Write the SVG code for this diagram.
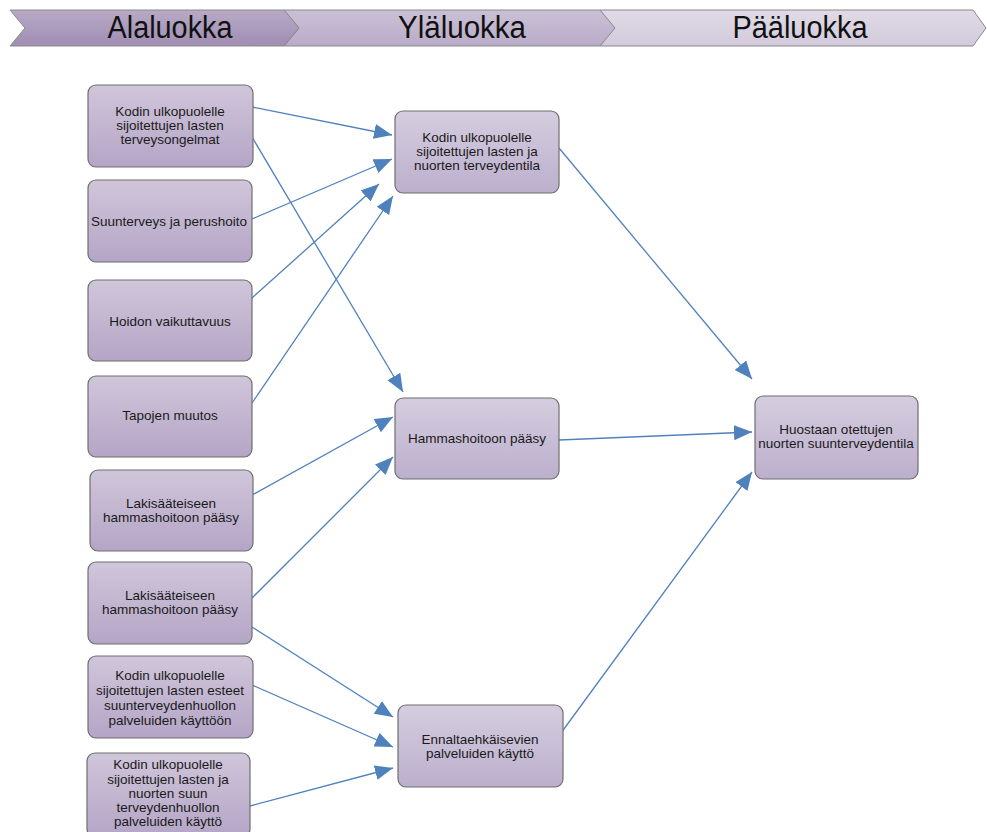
<svg xmlns="http://www.w3.org/2000/svg" width="987" height="832" viewBox="0 0 987 832">
<defs>
<linearGradient id="gBox" x1="0" y1="0" x2="0" y2="1">
<stop offset="0" stop-color="#d0c6da"/>
<stop offset="1" stop-color="#b4a5c6"/>
</linearGradient>
<linearGradient id="gBox2" x1="0" y1="0" x2="0" y2="1">
<stop offset="0" stop-color="#d5cddf"/>
<stop offset="1" stop-color="#bcafcd"/>
</linearGradient>
<linearGradient id="gH1" x1="0" y1="0" x2="0" y2="1">
<stop offset="0" stop-color="#b8aac6"/>
<stop offset="1" stop-color="#9f8db3"/>
</linearGradient>
<linearGradient id="gH2" x1="0" y1="0" x2="0" y2="1">
<stop offset="0" stop-color="#cbc1d6"/>
<stop offset="1" stop-color="#b8abc8"/>
</linearGradient>
<linearGradient id="gH3" x1="0" y1="0" x2="0" y2="1">
<stop offset="0" stop-color="#e0dbe6"/>
<stop offset="1" stop-color="#d2cadb"/>
</linearGradient>
<marker id="ah" markerUnits="userSpaceOnUse" markerWidth="20" markerHeight="16" refX="18" refY="7.5" orient="auto">
<path d="M0,0 L18,7.5 L0,15 Z" fill="#4f81bd"/>
</marker>
</defs>
<style>
.box{stroke:#6f6f6f;stroke-width:1.2}
.t{font-family:"Liberation Sans",Arial,sans-serif;font-size:13.5px;fill:#1a1a1a;text-anchor:middle}
.h{font-family:"Liberation Sans",Arial,sans-serif;font-size:31px;fill:#111;text-anchor:middle}
.hd{stroke:#8a8a8a;stroke-width:1}
.c line{stroke:#4f81bd;stroke-width:1.3;marker-end:url(#ah)}
</style>
<rect width="987" height="832" fill="#ffffff"/>

<g id="header">
<path class="hd" d="M600,10 L973,10 L986,28 L973,46 L600,46 L613,28 Z" fill="url(#gH3)"/>
<path class="hd" d="M284,10 L600,10 L615,28 L600,46 L284,46 L299,28 Z" fill="url(#gH2)"/>
<path class="hd" d="M10,10 L284,10 L299,28 L284,46 L10,46 L25,28 Z" fill="url(#gH1)"/>
<text class="h" x="170" y="38" textLength="125" lengthAdjust="spacingAndGlyphs">Alaluokka</text>
<text class="h" x="462" y="38" textLength="128" lengthAdjust="spacingAndGlyphs">Yläluokka</text>
<text class="h" x="800" y="38" textLength="135" lengthAdjust="spacingAndGlyphs">Pääluokka</text>
</g>

<g class="c" id="connectors">
<line x1="252" y1="107" x2="392" y2="135"/>
<line x1="252" y1="137" x2="403" y2="392"/>
<line x1="252" y1="219" x2="392" y2="159"/>
<line x1="252" y1="298" x2="379" y2="184"/>
<line x1="252" y1="403" x2="393" y2="196"/>
<line x1="252" y1="495" x2="393" y2="417"/>
<line x1="252" y1="598" x2="393" y2="457"/>
<line x1="252" y1="627" x2="393" y2="717"/>
<line x1="252" y1="685" x2="393" y2="747"/>
<line x1="250" y1="806" x2="393" y2="768"/>
<line x1="559" y1="148" x2="752" y2="379"/>
<line x1="559" y1="440" x2="752" y2="432"/>
<line x1="561" y1="733" x2="752" y2="472"/>
</g>

<g id="n1"><rect class="box" x="88" y="85" width="165" height="82" rx="8" fill="url(#gBox)"/>
<text class="t" x="170" y="116">Kodin ulkopuolelle</text><text class="t" x="170" y="130">sijoitettujen lasten</text><text class="t" x="170" y="144">terveysongelmat</text></g>
<g id="n2"><rect class="box" x="88" y="180" width="164" height="82" rx="8" fill="url(#gBox)"/>
<text class="t" x="169" y="226">Suunterveys ja perushoito</text></g>
<g id="n3"><rect class="box" x="88" y="280" width="164" height="81" rx="8" fill="url(#gBox)"/>
<text class="t" x="170" y="326">Hoidon vaikuttavuus</text></g>
<g id="n4"><rect class="box" x="88" y="376" width="164" height="81" rx="8" fill="url(#gBox)"/>
<text class="t" x="170" y="420">Tapojen muutos</text></g>
<g id="n5"><rect class="box" x="90" y="470" width="163" height="81" rx="8" fill="url(#gBox)"/>
<text class="t" x="171" y="508">Lakisääteiseen</text><text class="t" x="171" y="522">hammashoitoon pääsy</text></g>
<g id="n6"><rect class="box" x="88" y="562" width="164" height="82" rx="8" fill="url(#gBox)"/>
<text class="t" x="170" y="600">Lakisääteiseen</text><text class="t" x="170" y="614">hammashoitoon pääsy</text></g>
<g id="n7"><rect class="box" x="88" y="656" width="165" height="82" rx="8" fill="url(#gBox)"/>
<text class="t" x="170" y="680">Kodin ulkopuolelle</text><text class="t" x="170" y="695">sijoitettujen lasten esteet</text><text class="t" x="170" y="710">suunterveydenhuollon</text><text class="t" x="170" y="725">palveluiden käyttöön</text></g>
<g id="n8"><rect class="box" x="87" y="753" width="163" height="84" rx="8" fill="url(#gBox)"/>
<text class="t" x="168" y="769">Kodin ulkopuolelle</text><text class="t" x="168" y="784">sijoitettujen lasten ja</text><text class="t" x="168" y="798">nuorten suun</text><text class="t" x="168" y="812">terveydenhuollon</text><text class="t" x="168" y="826">palveluiden käyttö</text></g>

<g id="m1"><rect class="box" x="395" y="111" width="164" height="82" rx="8" fill="url(#gBox2)"/>
<text class="t" x="477" y="142">Kodin ulkopuolelle</text><text class="t" x="477" y="156">sijoitettujen lasten ja</text><text class="t" x="477" y="170">nuorten terveydentila</text></g>
<g id="m2"><rect class="box" x="395" y="398" width="164" height="81" rx="8" fill="url(#gBox2)"/>
<text class="t" x="477" y="443">Hammashoitoon pääsy</text></g>
<g id="m3"><rect class="box" x="398" y="705" width="165" height="82" rx="8" fill="url(#gBox2)"/>
<text class="t" x="480" y="744">Ennaltaehkäisevien</text><text class="t" x="480" y="758">palveluiden käyttö</text></g>

<g id="r1"><rect class="box" x="755" y="396" width="163" height="83" rx="8" fill="url(#gBox2)"/>
<text class="t" x="836" y="434">Huostaan otettujen</text><text class="t" x="836" y="448">nuorten suunterveydentila</text></g>
</svg>
